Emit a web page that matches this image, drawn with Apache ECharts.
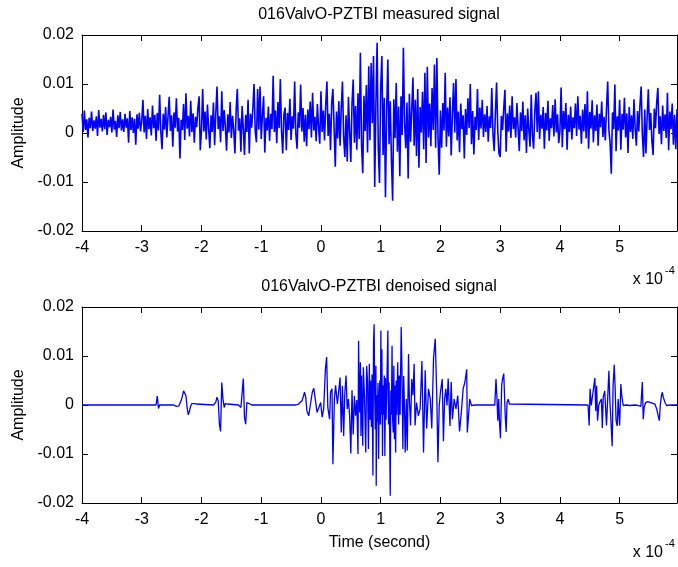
<!DOCTYPE html>
<html>
<head>
<meta charset="utf-8">
<script src="https://cdn.jsdelivr.net/npm/echarts@6/dist/echarts.min.js"></script>
<style>
html,body{margin:0;padding:0;background:#fff;}
#chart{width:678px;height:567px;}
</style>
</head>
<body>
<div id="chart"></div>
<script>
// ---------------- DATA ----------------
// time axis is in units of 1e-4 s (as printed "x 10^-4"); amplitudes are stored in units of 1e-3
const TIME_UNIT_LABEL = '-4';
const AMP_UNIT = 0.001;
const xMin = -4, xMax = 5.96, xInterval = 1;
const yMin = -0.02, yMax = 0.02, yInterval = 0.01;

const titles = ['016ValvO-PZTBI measured signal', '016ValvO-PZTBI denoised signal'];
const yAxisTitle = 'Amplitude';
const xAxisTitle = 'Time (second)';

// measured signal: sampled every 0.02 (x1e-4 s) from -4.00, one array per 1e-4 s
const measuredStart = -4;
const measuredStep = 0.02;
const measuredSeg1 = [3.9,0.2,4.6,0.6,2.8,-0.9,3.1,1.0,4.4,0.4, 2.6,0.9,3.4,-0.6,4.7,1.1,2.9,0.3,3.7,0.8, 4.2,-0.4,2.7,1.2,3.3,0.1,4.8,0.7,2.5,-0.8, 3.6,1.0,4.3,0.5,2.8,0.2,3.9,1.1,3.0,-2.0, 4.5,0.6,3.2,0.0,2.9,-2.4,3.8,0.9,4.1,0.3];
const measuredSeg2 = [2.4,6.8,0.1,3.5,-1.2,4.9,0.8,3.2,-0.5,5.6, 1.0,3.7,-1.6,4.1,0.5,7.8,0.2,-3.3,3.9,0.7, 5.3,-0.9,3.4,7.4,0.4,3.6,-2.8,4.2,1.1,7.1, 0.3,3.1,-5.2,2.7,0.6,5.9,-1.4,8.1,0.9,3.5, -0.7,6.6,0.2,4.0,-2.0,3.3,1.2,5.1,7.5,-3.5];
const measuredSeg3 = [0.6,9.0,0.3,4.4,-1.3,5.8,0.9,-3.1,3.6,0.2, 6.2,-2.5,4.0,9.5,0.8,3.4,-1.9,8.5,0.4,4.7, 1.2,-3.6,3.8,0.1,6.3,-1.0,3.5,0.6,-4.2,4.5, 9.0,0.5,3.0,-3.8,5.5,1.0,-4.5,3.7,0.2,6.8, -4.2,3.9,1.1,5.0,10.0,0.3,-1.9,9.0,0.7,9.5];
const measuredSeg4 = [-1.2,3.6,7.5,-4.0,3.1,0.5,5.4,-1.6,3.9,0.8, 11.7,0.2,4.6,-2.1,6.3,1.0,11.0,0.4,-4.2,3.8, 5.2,-3.5,4.1,0.6,7.0,-1.4,3.4,0.9,10.5,-0.3, -3.2,4.2,1.1,9.9,0.3,5.1,-1.8,3.7,-2.7,4.8, 0.8,6.4,-0.9,8.2,0.5,3.3,-1.7,5.9,1.2,-2.2];
const measuredSeg5 = [8.5,0.2,4.6,-1.5,5.8,10.5,-0.6,3.9,-3.5,6.2, 9.0,1.0,-6.9,4.4,-1.1,6.5,-2.6,5.2,10.5,-0.8, -4.9,3.6,-5.8,7.4,0.3,-5.9,6.1,10.9,-2.0,5.5, -3.4,8.1,-1.2,16.4,-2.7,-8.2,7.6,0.4,9.8,-4.0, 13.6,-1.5,14.3,2.0,15.7,-11.0,6.0,18.4,-3.2,-10.2];
const measuredSeg6 = [9.3,15.7,-4.5,7.2,-13.1,4.8,15.0,-2.3,6.5,-5.6, -13.8,6.9,-1.0,10.2,-3.8,5.4,-8.8,7.5,-0.4,17.4, 2.0,-3.1,6.2,-9.3,8.0,-1.8,4.9,11.3,-2.6,6.8, -4.7,9.0,-7.1,5.3,0.1,8.4,-3.3,12.3,-6.1,13.5, -0.9,6.0,-2.7,9.2,0.6,14.0,-3.0,15.3,-1.1,-8.5];
const measuredSeg7 = [4.6,-3.0,6.1,0.5,12.3,-2.8,5.2,-0.7,7.3,-4.6, 3.9,10.2,0.1,11.0,-1.5,4.4,-3.9,6.0,0.8,3.6, -5.2,4.9,-0.4,7.1,1.0,10.0,-2.3,4.5,-4.4,3.3, 0.6,9.0,-1.4,5.2,0.9,6.8,-0.8,3.8,0.2,5.5, -1.8,3.4,1.0,9.2,-0.3,-3.7,4.1,10.3,0.4,-4.2];
const measuredSeg8 = [-4.9,3.5,0.6,5.1,8.8,-3.8,4.0,0.3,5.6,-1.0, 7.5,0.8,3.2,-0.9,6.1,1.1,-3.7,4.2,0.4,6.4, -1.5,3.6,-4.1,5.0,0.7,-2.8,7.8,-0.5,-3.2,4.4, 8.2,0.2,8.5,-1.2,3.7,0.9,5.3,-3.2,4.1,0.5, 6.6,-1.6,3.0,1.0,5.7,-0.7,6.9,0.1,3.8,-2.1];
const measuredSeg9 = [0.4,9.3,-2.9,4.5,0.8,6.1,-3.4,3.7,0.2,5.4, -1.3,3.2,1.0,6.0,-0.6,7.5,0.7,3.5,-2.2,4.8, 0.3,5.9,-1.1,8.5,-3.2,4.3,0.9,6.7,-1.9,3.6, 0.4,5.8,-2.6,3.9,1.2,6.4,-0.8,3.3,-1.5,5.1, 10.5,0.6,-2.0,-8.3,4.2,0.8,9.9,-3.7,3.4,0.5];
const measuredSeg10 = [6.8,-3.4,3.9,0.7,7.2,-0.9,4.0,-4.1,5.3,0.2, 3.6,-1.2,6.9,0.9,-2.6,4.5,0.3,5.7,9.5,-0.4, -4.9,4.8,-4.2,3.2,8.9,0.6,4.1,-1.7,-4.5,5.0, 1.0,6.2,9.2,-0.2,3.4,-2.3,5.6,0.4,3.8,-1.0, 8.2,-3.5,4.4,0.8,6.0,-2.4,3.7,-3.3,4.9];

// denoised signal: [time (x1e-4 s), amplitude (x1e-3)] read per burst; zero between bursts
const denoisedStart = [[-4.00,0]];
const burstSpike = [[-2.76,0],[-2.74,1.8],[-2.72,-0.7],[-2.70,0]];
const burst2 = [[-2.46,0],[-2.44,-0.2],[-2.42,-0.3],[-2.40,-0.3],[-2.38,-0.2],[-2.36,0.2],[-2.34,0.9],[-2.32,1.8],[-2.30,2.9],[-2.28,2.4],[-2.26,1.9],[-2.24,-0.6],[-2.22,-2.0],[-2.20,-1.2],[-2.18,-0.2],[-2.16,0.3],[-2.14,0.4],[-2.12,0.3],[-2.10,0.1],[-2.08,0.2],[-2.06,0]];
const burst3 = [[-1.80,0],[-1.78,0.4],[-1.76,0.6],[-1.74,1.6],[-1.72,0.9],[-1.70,-3.9],[-1.68,-5.4],[-1.66,4.6],[-1.64,1.2],[-1.62,-0.5],[-1.60,0.3],[-1.58,0.1],[-1.56,0.2],[-1.54,0]];
const burst4 = [[-1.38,0],[-1.36,-0.2],[-1.34,-0.5],[-1.32,2.4],[-1.30,5.4],[-1.28,-2.5],[-1.26,-3.9],[-1.24,0.5],[-1.22,0.6],[-1.20,0.3],[-1.18,0.1],[-1.16,0]];
const burstMainRise = [[-0.42,0],[-0.40,-0.1],[-0.375,0.2],[-0.315,0.9],[-0.275,2.6],[-0.255,1.6],[-0.235,-1.2],[-0.205,-2.2],[-0.175,0.2],[-0.145,2.6],[-0.12,3.4],[-0.095,1.2],[-0.065,-1.5],[-0.035,-0.5],[-0.005,0.5],[0.02,-2.5],[0.045,-0.8],[0.075,7.4],[0.095,9.8],[0.115,-0.5],[0.145,-2.9],[0.16,2.6],[0.185,3.3],[0.20,-12.1],[0.225,1.2],[0.245,4.0],[0.275,0.2]];
const burstMainPeak = [[0.30,0.2],[0.32,5.6],[0.34,-5.6],[0.36,3.9],[0.38,-6.3],[0.40,2.5],[0.42,6.0],[0.44,-0.8],[0.46,1.2],[0.48,-2.2],[0.50,-9.9],[0.52,3.0],[0.54,-6.0],[0.56,1.9],[0.58,-2.2],[0.60,1.0],[0.62,-10.0],[0.63,13.1],[0.64,0.5],[0.65,-1.5],[0.66,8.7],[0.67,-6.3],[0.68,6.0],[0.70,-8.3],[0.71,7.7],[0.72,8.0],[0.73,1.2],[0.75,-9.7],[0.765,8.0],[0.78,4.8],[0.795,-9.0],[0.81,8.4],[0.82,-3.0],[0.83,5.0],[0.845,-4.5],[0.855,6.2],[0.87,-14.4],[0.88,12.8],[0.89,16.5],[0.90,2.0],[0.91,-5.0],[0.92,8.0],[0.925,-16.5],[0.935,2.0],[0.945,-3.5],[0.955,4.5],[0.965,-11.0],[0.975,1.2],[0.985,5.0],[0.995,-4.0],[1.003,15.2],[1.01,-2.0],[1.02,11.4],[1.03,-10.4],[1.04,4.0],[1.05,-2.0],[1.06,6.0],[1.07,-10.4],[1.08,5.5],[1.09,-3.0],[1.10,1.9],[1.12,15.2],[1.13,-4.0],[1.14,4.6],[1.15,-6.0],[1.16,-18.5],[1.17,3.0],[1.18,-2.0],[1.19,12.1],[1.20,-3.0],[1.21,-5.6],[1.22,8.0],[1.23,-7.0],[1.24,4.0],[1.25,-9.7],[1.26,5.0],[1.27,-2.0],[1.285,8.7],[1.30,-4.0],[1.31,6.0],[1.325,-2.0],[1.343,15.9],[1.355,8.0],[1.371,-9.0],[1.385,5.9],[1.40,-1.5],[1.41,-9.7],[1.43,1.2],[1.445,-9.3],[1.466,10.4],[1.48,1.2],[1.50,-4.2],[1.52,5.3],[1.54,2.0],[1.56,8.4],[1.575,-4.2],[1.60,0.5],[1.63,-2.2],[1.66,-0.8],[1.69,9.0],[1.717,-9.7],[1.745,7.1],[1.77,-4.8],[1.80,3.3],[1.83,1.2],[1.855,-4.8],[1.885,9.7],[1.913,13.5],[1.94,1.2],[1.958,-11.7]];
const burstMainTail = [[1.98,-0.1],[2.00,2.6],[2.03,5.3],[2.05,-7.4],[2.07,1.2],[2.09,3.3],[2.11,-0.1],[2.13,5.4],[2.16,-4.3],[2.18,4.7],[2.20,-2.9],[2.23,1.2],[2.26,-0.8],[2.29,1.9],[2.32,-5.4],[2.35,-1.5],[2.38,3.3],[2.41,4.7],[2.44,7.3],[2.45,-5.6],[2.47,-5.3],[2.49,1.2],[2.52,-0.1],[2.55,0.2],[2.58,0]];
const burst6 = [[2.91,0],[2.93,5.3],[2.945,1.9],[2.96,-3.2],[2.975,1.2],[2.99,-3.9],[3.005,-6.8],[3.025,4.0],[3.04,5.3],[3.06,6.4],[3.07,6.2],[3.085,-2.2],[3.10,-5.5],[3.115,0.5],[3.135,1.2],[3.155,0.2],[3.18,0]];
const burst7 = [[4.47,0],[4.49,-4.2],[4.505,3.3],[4.525,-0.1],[4.555,0.2],[4.585,5.5],[4.60,-1.2],[4.615,3.9],[4.63,-3.2],[4.65,-0.1],[4.665,0.5],[4.695,1.2],[4.71,-4.7],[4.725,1.6],[4.75,2.9],[4.78,-4.2],[4.795,-4.6],[4.82,7.0],[4.835,1.2],[4.85,-2.2],[4.875,-8.4],[4.89,3.9],[4.91,8.2],[4.925,3.3],[4.94,-3.2],[4.96,-4.3],[4.975,1.2],[5.00,-4.2],[5.02,4.3],[5.035,1.9],[5.06,-0.1],[5.085,0.3],[5.115,0.0],[5.145,0.2],[5.17,-0.1],[5.20,0.3],[5.255,0],[5.31,-0.1],[5.355,-0.3],[5.38,4.7],[5.395,-2.9],[5.41,-0.5],[5.435,0.5],[5.47,0.7],[5.49,0.9],[5.52,0.5],[5.55,0.7],[5.59,0.2],[5.62,-0.8],[5.645,-2.2],[5.665,-3.2],[5.68,-0.1],[5.70,1.9],[5.715,2.6],[5.73,1.6],[5.76,0.5],[5.785,-0.1],[5.815,0.2],[5.845,0]];
const denoisedEnd = [[5.96,0]];

// ---------------- BUILD ----------------
const measuredValues = [].concat(measuredSeg1, measuredSeg2, measuredSeg3, measuredSeg4, measuredSeg5,
  measuredSeg6, measuredSeg7, measuredSeg8, measuredSeg9, measuredSeg10);
const measuredData = measuredValues.map((v, i) => [measuredStart + i * measuredStep, v * AMP_UNIT]);
const denoisedData = [].concat(denoisedStart, burstSpike, burst2, burst3, burst4,
  burstMainRise, burstMainPeak, burstMainTail, burst6, burst7, denoisedEnd)
  .map(p => [p[0], p[1] * AMP_UNIT]);

const FONT = '"Liberation Sans", Arial, Helvetica, sans-serif';
const BLACK = '#000';
const lineAx = {show: true, onZero: false, lineStyle: {color: BLACK, width: 1}};
const tickAx = {show: true, inside: true, length: 6, lineStyle: {color: BLACK, width: 1}};
const labelStyle = {color: BLACK, fontSize: 16, fontFamily: FONT};

function xAxisPair(gridIndex, withName) {
  return [
    {gridIndex, type: 'value', min: xMin, max: xMax, interval: xInterval, position: 'bottom',
     axisLine: lineAx, axisTick: tickAx, splitLine: {show: false},
     axisLabel: Object.assign({margin: 9, showMaxLabel: false}, labelStyle),
     name: withName ? xAxisTitle : '', nameLocation: 'middle', nameGap: 32,
     nameTextStyle: {color: BLACK, fontSize: 16, fontFamily: FONT}},
    {gridIndex, type: 'value', min: xMin, max: xMax, interval: xInterval, position: 'top',
     axisLine: lineAx, axisTick: tickAx, splitLine: {show: false}, axisLabel: {show: false}}
  ];
}
function yAxisPair(gridIndex) {
  return [
    {gridIndex, type: 'value', min: yMin, max: yMax, interval: yInterval, position: 'left',
     axisLine: lineAx, axisTick: tickAx, splitLine: {show: false},
     axisLabel: Object.assign({margin: 8}, labelStyle),
     name: yAxisTitle, nameLocation: 'middle', nameGap: 51, nameRotate: 90,
     nameTextStyle: {color: BLACK, fontSize: 16, fontFamily: FONT}},
    {gridIndex, type: 'value', min: yMin, max: yMax, interval: yInterval, position: 'right',
     axisLine: lineAx, axisTick: tickAx, splitLine: {show: false}, axisLabel: {show: false}}
  ];
}

function textEl(x, y, text, size, align) {
  return {type: 'text', x, y, silent: true,
    style: {text, fill: BLACK, fontSize: size, fontFamily: FONT, align: align || 'center', verticalAlign: 'middle'}};
}

const chart = echarts.init(document.getElementById('chart'), null, {renderer: 'canvas'});
chart.setOption({
  animation: false,
  backgroundColor: '#fff',
  grid: [
    {left: 82, top: 35, width: 595, height: 196},
    {left: 82, top: 307, width: 595, height: 196}
  ],
  xAxis: [].concat(xAxisPair(0, false), xAxisPair(1, true)),
  yAxis: [].concat(yAxisPair(0), yAxisPair(1)),
  series: [
    {type: 'line', xAxisIndex: 0, yAxisIndex: 0, data: measuredData, showSymbol: false, symbol: 'none',
     sampling: null, lineStyle: {color: '#0000ff', width: 1.6}, clip: true},
    {type: 'line', xAxisIndex: 2, yAxisIndex: 2, data: denoisedData, showSymbol: false, symbol: 'none',
     sampling: null, lineStyle: {color: '#0000ff', width: 1.3}, clip: true}
  ],
  graphic: [
    textEl(379, 15, titles[0], 16),
    textEl(379, 287, titles[1], 16),
    textEl(663, 280, 'x 10', 16, 'right'),
    textEl(665, 271, TIME_UNIT_LABEL, 11, 'left'),
    textEl(663, 553, 'x 10', 16, 'right'),
    textEl(665, 544, TIME_UNIT_LABEL, 11, 'left')
  ]
});
</script>
</body>
</html>
